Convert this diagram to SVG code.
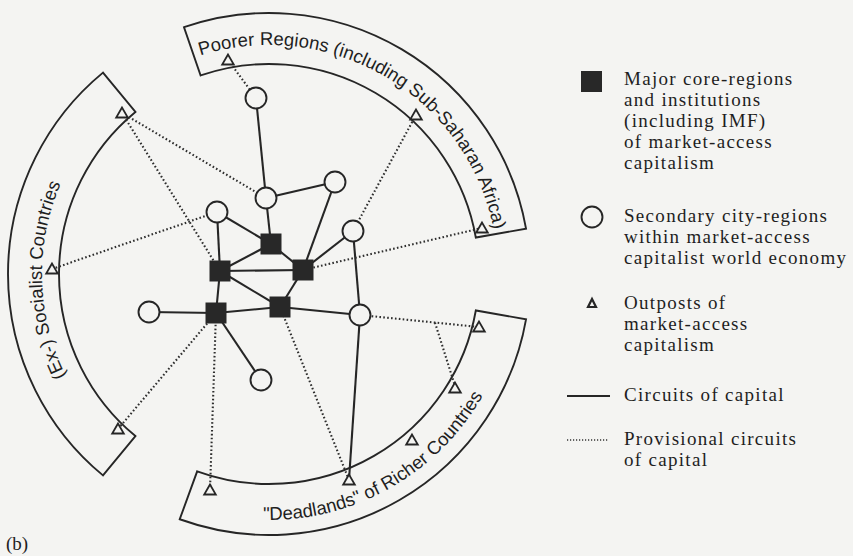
<svg xmlns="http://www.w3.org/2000/svg" width="853" height="556" viewBox="0 0 853 556">
<defs>
<style>
.band{fill:none;stroke:#262626;stroke-width:1.9}
.arct{font-family:"Liberation Sans",Arial,sans-serif;font-size:18.5px;fill:#1e1e1e}
.leg{font-family:"Liberation Serif","Times New Roman",serif;font-size:19px;fill:#1e1e1e;letter-spacing:1.3px}
.solid{stroke:#262626;stroke-width:2.1;fill:none}
.dot{stroke:#2e2e2e;stroke-width:2.1;fill:none;stroke-dasharray:1.6 2.3}
.sq{fill:#282828}
.ci{fill:#f4f4f2;stroke:#262626;stroke-width:1.9}
.tri{fill:#f4f4f2;stroke:#262626;stroke-width:1.8;stroke-linejoin:miter}
</style>
<path id="tp-top" d="M 123.96,96.79 A 229 229 0 0 1 494.02,316.52"/>
<path id="tp-left" d="M 197.35,489.40 A 227 227 0 0 1 185.44,62.94"/>
<path id="tp-bot" d="M 109.24,461.06 A 246 246 0 0 0 511.63,233.40"/>
<polygon id="tr" points="0,-5.5 -5.8,4.5 5.8,4.5"/>
</defs>
<rect width="853" height="556" fill="#f4f4f2"/>

<g id="band-poorer">
<path class="band" d="M 184.03,27.22 A 261 261 0 0 1 526.03,228.68 L 475.81,237.53 A 210 210 0 0 0 200.63,75.44 Z"/>
<text class="arct"><textPath href="#tp-top" startOffset="50%" text-anchor="middle">Poorer Regions (including Sub-Saharan Africa)</textPath></text>
</g>
<g id="band-socialist">
<path class="band" d="M 102.98,475.39 A 261 261 0 0 1 102.98,72.61 L 135.42,111.96 A 210 210 0 0 0 135.42,436.04 Z"/>
<text class="arct"><textPath href="#tp-left" startOffset="50%" text-anchor="middle">(Ex-) Socialist Countries</textPath></text>
</g>
<g id="band-deadlands">
<path class="band" d="M 526.03,319.32 A 261 261 0 0 1 179.73,519.26 L 197.18,471.33 A 210 210 0 0 0 475.81,310.47 Z"/>
<text class="arct"><textPath href="#tp-bot" startOffset="50%" text-anchor="middle">"Deadlands" of Richer Countries</textPath></text>
</g>

<g id="connectors">
<g class="solid">
<line x1="256" y1="98" x2="266" y2="198"/>
<line x1="266" y1="198" x2="335" y2="182"/>
<line x1="266" y1="198" x2="271" y2="244"/>
<line x1="335" y1="182" x2="303" y2="270"/>
<line x1="217" y1="212" x2="271" y2="244"/>
<line x1="217" y1="212" x2="220" y2="271"/>
<line x1="271" y1="244" x2="220" y2="271"/>
<line x1="271" y1="244" x2="303" y2="270"/>
<line x1="220" y1="271" x2="303" y2="270"/>
<line x1="220" y1="271" x2="280" y2="307"/>
<line x1="303" y1="270" x2="280" y2="307"/>
<line x1="303" y1="270" x2="353" y2="231"/>
<line x1="353" y1="231" x2="360" y2="315"/>
<line x1="280" y1="307" x2="360" y2="315"/>
<line x1="280" y1="307" x2="216" y2="313"/>
<line x1="220" y1="271" x2="216" y2="313"/>
<line x1="149" y1="312" x2="216" y2="313"/>
<line x1="216" y1="313" x2="261" y2="380"/>
<line x1="360" y1="315" x2="349" y2="480"/>
</g>
<g class="dot">
<line x1="228" y1="60" x2="256" y2="98"/>
<line x1="416" y1="115" x2="353" y2="231"/>
<line x1="482" y1="228" x2="303" y2="270"/>
<line x1="122" y1="113" x2="266" y2="198"/>
<line x1="122" y1="113" x2="220" y2="271"/>
<line x1="52" y1="269" x2="217" y2="212"/>
<line x1="118" y1="429" x2="216" y2="313"/>
<line x1="210" y1="490" x2="216" y2="313"/>
<line x1="349" y1="480" x2="280" y2="307"/>
<line x1="360" y1="315" x2="479" y2="327"/>
<line x1="435" y1="322.6" x2="455" y2="386"/>
</g>
</g>

<g id="core-1"><rect class="sq" x="260.5" y="233.5" width="21" height="21"/></g>
<g id="core-2"><rect class="sq" x="209.5" y="260.5" width="21" height="21"/></g>
<g id="core-3"><rect class="sq" x="292.5" y="259.5" width="21" height="21"/></g>
<g id="core-4"><rect class="sq" x="269.5" y="296.5" width="21" height="21"/></g>
<g id="core-5"><rect class="sq" x="205.5" y="302.5" width="21" height="21"/></g>

<g id="city-1"><circle class="ci" cx="256" cy="98" r="10.5"/></g>
<g id="city-2"><circle class="ci" cx="266" cy="198" r="10.5"/></g>
<g id="city-3"><circle class="ci" cx="335" cy="182" r="10.5"/></g>
<g id="city-4"><circle class="ci" cx="217" cy="212" r="10.5"/></g>
<g id="city-5"><circle class="ci" cx="353" cy="231" r="10.5"/></g>
<g id="city-6"><circle class="ci" cx="149" cy="312" r="10.5"/></g>
<g id="city-7"><circle class="ci" cx="360" cy="315" r="10.5"/></g>
<g id="city-8"><circle class="ci" cx="261" cy="380" r="10.5"/></g>

<g id="outpost-t1"><use href="#tr" class="tri" x="228" y="60"/></g>
<g id="outpost-t2"><use href="#tr" class="tri" x="416" y="115"/></g>
<g id="outpost-t3"><use href="#tr" class="tri" x="482" y="228"/></g>
<g id="outpost-l1"><use href="#tr" class="tri" x="122" y="113"/></g>
<g id="outpost-l2"><use href="#tr" class="tri" x="52" y="269"/></g>
<g id="outpost-l3"><use href="#tr" class="tri" x="118" y="429"/></g>
<g id="outpost-b1"><use href="#tr" class="tri" x="210" y="490"/></g>
<g id="outpost-b2"><use href="#tr" class="tri" x="349" y="480"/></g>
<g id="outpost-b3"><use href="#tr" class="tri" x="412" y="440"/></g>
<g id="outpost-b4"><use href="#tr" class="tri" x="455" y="388"/></g>
<g id="outpost-b5"><use href="#tr" class="tri" x="479" y="327"/></g>

<g id="legend">
<rect class="sq" x="581" y="71" width="21" height="21"/>
<text class="leg"><tspan x="624" y="85">Major core-regions</tspan><tspan x="624" y="106">and institutions</tspan><tspan x="624" y="127">(including IMF)</tspan><tspan x="624" y="148">of market-access</tspan><tspan x="624" y="168.5">capitalism</tspan></text>
<circle class="ci" cx="592" cy="217" r="10.5"/>
<text class="leg"><tspan x="624" y="222">Secondary city-regions</tspan><tspan x="624" y="243">within market-access</tspan><tspan x="624" y="263.5">capitalist world economy</tspan></text>
<polygon points="592,299 588,307 596,307" fill="none" stroke="#262626" stroke-width="2.2"/>
<text class="leg"><tspan x="624" y="309">Outposts of</tspan><tspan x="624" y="330">market-access</tspan><tspan x="624" y="351">capitalism</tspan></text>
<line class="solid" x1="567" y1="396" x2="610" y2="396"/>
<text class="leg" x="624" y="401">Circuits of capital</text>
<line x1="567" y1="440" x2="608" y2="440" stroke="#333" stroke-width="1.4" stroke-dasharray="1.2 1.8"/>
<text class="leg"><tspan x="624" y="445">Provisional circuits</tspan><tspan x="624" y="466">of capital</tspan></text>
</g>

<text x="6" y="550" font-family="Liberation Serif,serif" font-size="19" fill="#1e1e1e">(b)</text>
</svg>
